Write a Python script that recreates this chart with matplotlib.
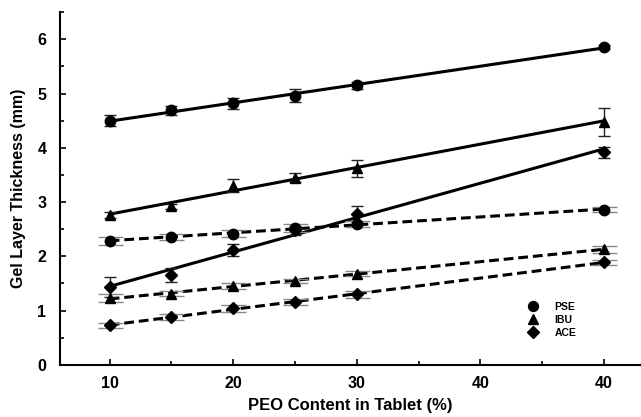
import matplotlib
import numpy as np

matplotlib.use("Agg")

from matplotlib import pyplot as plt
from matplotlib.ticker import FixedLocator, MultipleLocator

plt.rcParams["font.family"] = ["Liberation Sans", "DejaVu Sans"]
plt.rcParams["font.weight"] = "bold"

# x positions on the plot; the last group sits at 50 but is labelled "40"
peo = [10, 15, 20, 25, 30, 50]
x_tick_pos = [10, 20, 30, 40, 50]
x_tick_labels = ["10", "20", "30", "40", "40"]

# solid series
pse_solid = [4.50, 4.69, 4.82, 4.96, 5.15, 5.86]
pse_solid_err = [0.10, 0.08, 0.10, 0.12, 0.07, 0.04]
ibu_solid = [2.76, 2.92, 3.30, 3.45, 3.62, 4.48]
ibu_solid_err = [0.05, 0.05, 0.12, 0.08, 0.15, 0.26]
ace_solid = [1.43, 1.65, 2.12, 2.48, 2.78, 3.92]
ace_solid_err = [0.18, 0.13, 0.11, 0.08, 0.15, 0.10]

# dashed series
pse_dash = [2.28, 2.36, 2.42, 2.52, 2.60, 2.86]
pse_dash_err = [0.07, 0.05, 0.06, 0.08, 0.06, 0.05]
ibu_dash = [1.23, 1.31, 1.45, 1.55, 1.68, 2.13]
ibu_dash_err = [0.07, 0.05, 0.05, 0.04, 0.05, 0.06]
ace_dash = [0.73, 0.88, 1.04, 1.16, 1.30, 1.89]
ace_dash_err = [0.05, 0.06, 0.07, 0.05, 0.06, 0.05]

drugs = ["PSE", "IBU", "ACE"]
markers = {"PSE": "o", "IBU": "^", "ACE": "D"}
msizes = {"PSE": 7.5, "IBU": 7.5, "ACE": 6.0}


def draw_series(ax, y, err, drug, dashed):
    x = np.array(peo, dtype=float)
    y = np.array(y)
    slope, icpt = np.polyfit(x, y, 1)
    xs = np.array([x[0], x[-1]])
    ax.plot(xs, slope * xs + icpt, color="black", lw=2.2,
            ls=(0, (3.2, 1.6)) if dashed else "-", zorder=2)
    ax.errorbar(x, y, yerr=err, fmt="none",
                ecolor="#888888" if dashed else "#222222",
                elinewidth=1.0, capsize=9 if dashed else 4.5,
                capthick=1.0, zorder=3)
    ax.plot(x, y, ls="none", marker=markers[drug], ms=msizes[drug],
            color="black", zorder=4)


fig = plt.figure(figsize=(6.41, 4.17), dpi=100)
ax = fig.add_axes([0.094, 0.125, 0.906, 0.846])

draw_series(ax, pse_solid, pse_solid_err, "PSE", False)
draw_series(ax, ibu_solid, ibu_solid_err, "IBU", False)
draw_series(ax, ace_solid, ace_solid_err, "ACE", False)
draw_series(ax, pse_dash, pse_dash_err, "PSE", True)
draw_series(ax, ibu_dash, ibu_dash_err, "IBU", True)
draw_series(ax, ace_dash, ace_dash_err, "ACE", True)

ax.set_xlim(6, 53)
ax.set_ylim(0, 6.5)
ax.xaxis.set_major_locator(FixedLocator(x_tick_pos))
ax.set_xticklabels(x_tick_labels)
ax.xaxis.set_minor_locator(MultipleLocator(5))
ax.yaxis.set_major_locator(MultipleLocator(1))
ax.yaxis.set_minor_locator(MultipleLocator(0.5))
ax.tick_params(which="both", direction="in", width=1.2, labelsize=11.5)
ax.tick_params(which="major", length=4, pad=8)
ax.tick_params(which="minor", length=3)
ax.tick_params(axis="y", pad=10)
for side in ["top", "right"]:
    ax.spines[side].set_visible(False)
for side in ["left", "bottom"]:
    ax.spines[side].set_linewidth(1.5)

ax.set_xlabel("PEO Content in Tablet (%)", fontsize=12, fontweight="bold", labelpad=5)
ax.set_ylabel("Gel Layer Thickness (mm)", fontsize=11.5, fontweight="bold", labelpad=8)

handles = [
    plt.Line2D([], [], ls="none", marker=markers[d], ms=msizes[d] * 0.95, color="black")
    for d in drugs
]
ax.legend(handles, drugs, loc="lower right", bbox_to_anchor=(0.905, 0.05),
          frameon=False, fontsize=7.5, handletextpad=1.6, labelspacing=0.28,
          handlelength=1.0)

fig.savefig("out.png", dpi=100)
plt.close(fig)
